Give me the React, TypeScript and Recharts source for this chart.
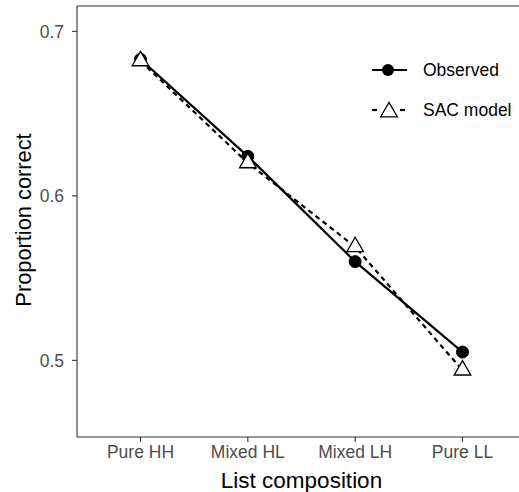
import React from 'react';
import { LineChart, Line, XAxis, YAxis, ReferenceLine, Legend, Label } from 'recharts';

const conditions = ['Pure HH', 'Mixed HL', 'Mixed LH', 'Pure LL'];
const observed = [0.683, 0.624, 0.56, 0.505];
const sacModel = [0.682, 0.62, 0.569, 0.494];
const yTicks = [0.5, 0.6, 0.7];
const yMin = 0.4534;
const yMax = 0.7154;

const FONT = '"Liberation Sans", Arial, sans-serif';
const AXIS = '#333333';
const TICK_TEXT = '#4d4d4d';

const chartData = conditions.map((condition, i) => ({
  condition,
  observed: observed[i],
  sac: sacModel[i],
}));

const triPoints = (cx: number, cy: number, r: number) => {
  const w = r * 0.866;
  return `${cx},${cy - r} ${cx + w},${cy + r / 2} ${cx - w},${cy + r / 2}`;
};

const CircleDot = (props: any) => {
  const { cx, cy, index } = props;
  return <circle key={`c-${index}`} cx={cx} cy={cy} r={6} fill="#000" stroke="#000" strokeWidth={1} />;
};

const TriangleDot = (props: any) => {
  const { cx, cy, index } = props;
  return (
    <polygon key={`t-${index}`} points={triPoints(cx, cy, 9.6)} fill="#fff" stroke="#000" strokeWidth={1.3} />
  );
};

const LegendBox = () => (
  <div style={{ fontFamily: FONT, fontSize: 17.5, color: '#000' }}>
    <div style={{ display: 'flex', alignItems: 'center', height: 40 }}>
      <svg width={58} height={40}>
        <line x1={7} y1={20} x2={42} y2={20} stroke="#000" strokeWidth={2.2} />
        <circle cx={23} cy={20} r={6} fill="#000" />
      </svg>
      <span>Observed</span>
    </div>
    <div style={{ display: 'flex', alignItems: 'center', height: 40 }}>
      <svg width={58} height={40}>
        <line x1={7} y1={20} x2={12} y2={20} stroke="#000" strokeWidth={2.2} />
        <line x1={35} y1={20} x2={40} y2={20} stroke="#000" strokeWidth={2.2} />
        <polygon points={triPoints(24, 22, 9.6)} fill="#fff" stroke="#000" strokeWidth={1.3} />
      </svg>
      <span>SAC model</span>
    </div>
  </div>
);

export default function App() {
  return (
    <div style={{ position: 'absolute', left: 0, top: 0, width: 519, height: 492, overflow: 'hidden', background: '#fff' }}>
      <LineChart
        width={540}
        height={492}
        data={chartData}
        margin={{ top: 6, right: 13, bottom: 0, left: 0 }}
        style={{ fontFamily: FONT }}
      >
        <XAxis
          dataKey="condition"
          height={55}
          padding={{ left: 63.5, right: 64.5 }}
          axisLine={{ stroke: AXIS, strokeWidth: 1.1 }}
          tickLine={{ stroke: AXIS, strokeWidth: 1.1 }}
          tickSize={5}
          tickMargin={4}
          tick={{ fill: TICK_TEXT, fontSize: 17.5, fontFamily: FONT }}
          label={
            <Label
              content={() => (
                <text x={301.5} y={488} textAnchor="middle" fontSize={22.5} fontFamily={FONT} fill="#000">
                  List composition
                </text>
              )}
            />
          }
        />
        <YAxis
          width={77}
          type="number"
          domain={[yMin, yMax]}
          allowDataOverflow
          ticks={yTicks}
          tickFormatter={(v: number) => v.toFixed(1)}
          axisLine={{ stroke: AXIS, strokeWidth: 1.1 }}
          tickLine={{ stroke: AXIS, strokeWidth: 1.1 }}
          tickSize={5}
          tickMargin={8}
          tick={{ fill: TICK_TEXT, fontSize: 17.5, fontFamily: FONT }}
          label={
            <Label
              content={() => (
                <text
                  x={30.5}
                  y={220}
                  transform="rotate(-90 30.5 220)"
                  textAnchor="middle"
                  fontSize={21.8}
                  fontFamily={FONT}
                  fill="#000"
                >
                  Proportion correct
                </text>
              )}
            />
          }
        />
        <ReferenceLine y={yMax} stroke={AXIS} strokeWidth={1.1} />
        <Legend
          layout="vertical"
          align="center"
          verticalAlign="middle"
          content={() => <LegendBox />}
          wrapperStyle={{ top: 50, left: 365, width: 160 }}
        />
        <Line
          type="linear"
          dataKey="observed"
          stroke="#000"
          strokeWidth={2.2}
          dot={CircleDot}
          activeDot={false}
          isAnimationActive={false}
        />
        <Line
          type="linear"
          dataKey="sac"
          stroke="#000"
          strokeWidth={2.2}
          strokeDasharray="5 4"
          dot={TriangleDot}
          activeDot={false}
          isAnimationActive={false}
        />
      </LineChart>
    </div>
  );
}
